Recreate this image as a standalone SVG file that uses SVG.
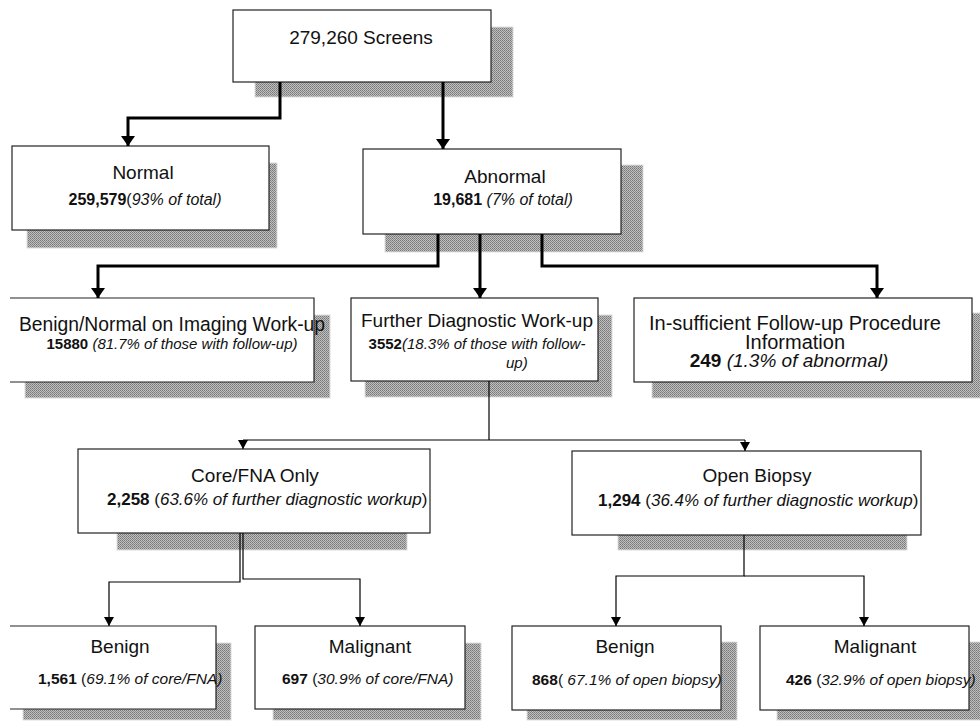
<svg xmlns="http://www.w3.org/2000/svg" width="980" height="721" viewBox="0 0 980 721">
<style>
text{font-family:"Liberation Sans",Arial,sans-serif;fill:#111}
.t{font-size:19px}
.s{font-size:16px}
.b{font-weight:bold}
.i{font-style:italic}
.box{fill:#fff;stroke:#222;stroke-width:1.2}
.sh{fill:url(#dots);stroke:#ddd;stroke-width:1}
.thick{fill:none;stroke:#000;stroke-width:3}
.thin{fill:none;stroke:#000;stroke-width:1.2}
</style>
<defs>
<pattern id="dots" width="2" height="2" patternUnits="userSpaceOnUse">
<rect width="2" height="2" fill="#c0c0c0"/>
<rect width="1" height="1" fill="#777"/>
<rect x="1" y="1" width="1" height="1" fill="#888"/>
</pattern>
<marker id="ak" markerUnits="userSpaceOnUse" markerWidth="10" markerHeight="14" refX="10" refY="7" orient="auto">
<path d="M0,0 L10,7 L0,14 z" fill="#000"/>
</marker>
<marker id="an" markerUnits="userSpaceOnUse" markerWidth="9" markerHeight="10" refX="9" refY="5" orient="auto">
<path d="M0,0 L9,5 L0,10 z" fill="#000"/>
</marker>
</defs>
<rect width="980" height="721" fill="#fff"/>

<g id="screens">
<rect class="sh" x="255" y="27" width="258" height="70"/>
<rect class="box" x="233" y="10" width="258" height="72"/>
<text class="t" x="361" y="44" text-anchor="middle">279,260 Screens</text>
</g>

<g id="normal">
<rect class="sh" x="27" y="163" width="250" height="85"/>
<rect class="box" x="12" y="146" width="257" height="84"/>
<text class="t" x="143" y="179" text-anchor="middle">Normal</text>
<text class="s" x="145" y="205" text-anchor="middle"><tspan class="b">259,579</tspan>(<tspan class="i">93% of total)</tspan></text>
</g>

<g id="abnormal">
<rect class="sh" x="385" y="165" width="258" height="87"/>
<rect class="box" x="363" y="149" width="258" height="85"/>
<text class="t" x="505" y="183" text-anchor="middle">Abnormal</text>
<text class="s" x="503" y="205" text-anchor="middle"><tspan class="b">19,681</tspan><tspan class="i"> (7% of total)</tspan></text>
</g>

<g id="benign-normal">
<rect class="sh" x="25" y="315" width="305" height="83"/>
<rect x="10" y="298" width="304" height="84" fill="#fff"/>
<path d="M10,298 H314 V382 H10" fill="none" stroke="#222" stroke-width="1.2"/>
<text x="172" y="331" text-anchor="middle" font-size="19.3">Benign/Normal on Imaging Work-up</text>
<text x="172" y="349" text-anchor="middle" font-size="15"><tspan class="b">15880</tspan><tspan class="i"> (81.7% of those with follow-up)</tspan></text>
</g>

<g id="further">
<rect class="sh" x="365" y="315" width="247" height="82"/>
<rect class="box" x="351" y="298" width="247" height="83"/>
<text class="t" x="477" y="327" text-anchor="middle">Further Diagnostic Work-up</text>
<text x="477" y="349" text-anchor="middle" font-size="15"><tspan class="b">3552</tspan><tspan class="i">(18.3% of those with follow-</tspan></text>
<text x="506" y="368" font-size="15" class="i">up)</text>
</g>

<g id="insufficient">
<rect class="sh" x="652" y="313" width="330" height="85"/>
<rect class="box" x="634" y="298" width="338" height="84"/>
<text x="795" y="330" text-anchor="middle" font-size="20">In-sufficient Follow-up Procedure</text>
<text x="795" y="349" text-anchor="middle" font-size="20">Information</text>
<text x="789" y="367" text-anchor="middle" font-size="19"><tspan class="b">249</tspan><tspan class="i"> (1.3% of abnormal)</tspan></text>
</g>

<g id="core-fna">
<rect class="sh" x="117" y="466" width="290" height="84"/>
<rect class="box" x="78" y="449" width="352" height="84"/>
<text class="t" x="255" y="482" text-anchor="middle">Core/FNA Only</text>
<text x="107" y="505" font-size="17"><tspan class="b">2,258</tspan> (<tspan class="i">63.6% of further diagnostic workup</tspan>)</text>
</g>

<g id="open-biopsy">
<rect class="sh" x="618" y="468" width="289" height="82"/>
<rect class="box" x="572" y="451" width="349" height="84"/>
<text class="t" x="757" y="482" text-anchor="middle">Open Biopsy</text>
<text x="598" y="506" font-size="17"><tspan class="b">1,294</tspan> (<tspan class="i">36.4% of further diagnostic workup</tspan>)</text>
</g>

<g id="benign-core">
<rect class="sh" x="23" y="643" width="208" height="77"/>
<rect x="10" y="626" width="206" height="83" fill="#fff"/>
<path d="M10,626 H216 V709 H10" fill="none" stroke="#222" stroke-width="1.2"/>
<text class="t" x="120" y="653" text-anchor="middle">Benign</text>
<text x="38" y="684" font-size="15.5"><tspan class="b">1,561</tspan> (<tspan class="i">69.1% of core/FNA)</tspan></text>
</g>

<g id="malignant-core">
<rect class="sh" x="273" y="643" width="208" height="77"/>
<rect class="box" x="255" y="626" width="210" height="83"/>
<text class="t" x="370" y="653" text-anchor="middle">Malignant</text>
<text x="282" y="684" font-size="15.5"><tspan class="b">697</tspan> (<tspan class="i">30.9% of core/FNA)</tspan></text>
</g>

<g id="benign-open">
<rect class="sh" x="527" y="642" width="210" height="78"/>
<rect class="box" x="512" y="626" width="209" height="84"/>
<text class="t" x="625" y="653" text-anchor="middle">Benign</text>
<text x="532" y="685" font-size="15.5"><tspan class="b">868</tspan>(<tspan class="i"> 67.1% of open biopsy)</tspan></text>
</g>

<g id="malignant-open">
<rect class="sh" x="777" y="642" width="205" height="78"/>
<rect class="box" x="760" y="626" width="209" height="84"/>
<text class="t" x="875" y="653" text-anchor="middle">Malignant</text>
<text x="786" y="685" font-size="15.5"><tspan class="b">426</tspan> (<tspan class="i">32.9% of open biopsy)</tspan></text>
</g>

<g id="connectors">
<path class="thick" d="M280,82 V118 H128 V146" marker-end="url(#ak)"/>
<path class="thick" d="M443,82 V149" marker-end="url(#ak)"/>
<path class="thick" d="M438,234 V266 H98 V298" marker-end="url(#ak)"/>
<path class="thick" d="M480,234 V298" marker-end="url(#ak)"/>
<path class="thick" d="M542,234 V266 H877 V298" marker-end="url(#ak)"/>
<path class="thin" d="M489,381 V440"/>
<path class="thin" d="M243,440 H745"/>
<path class="thin" d="M243,440 V449" marker-end="url(#an)"/>
<path class="thin" d="M745,440 V451" marker-end="url(#an)"/>
<path class="thin" d="M240,533 V582 H109 V626" marker-end="url(#an)"/>
<path class="thin" d="M243,533 V579 H360 V626" marker-end="url(#an)"/>
<path class="thin" d="M744,535 V576 H616 V626" marker-end="url(#an)"/>
<path class="thin" d="M744,576 H864 V626" stroke-width="1.6" marker-end="url(#an)"/>
</g>
</svg>
